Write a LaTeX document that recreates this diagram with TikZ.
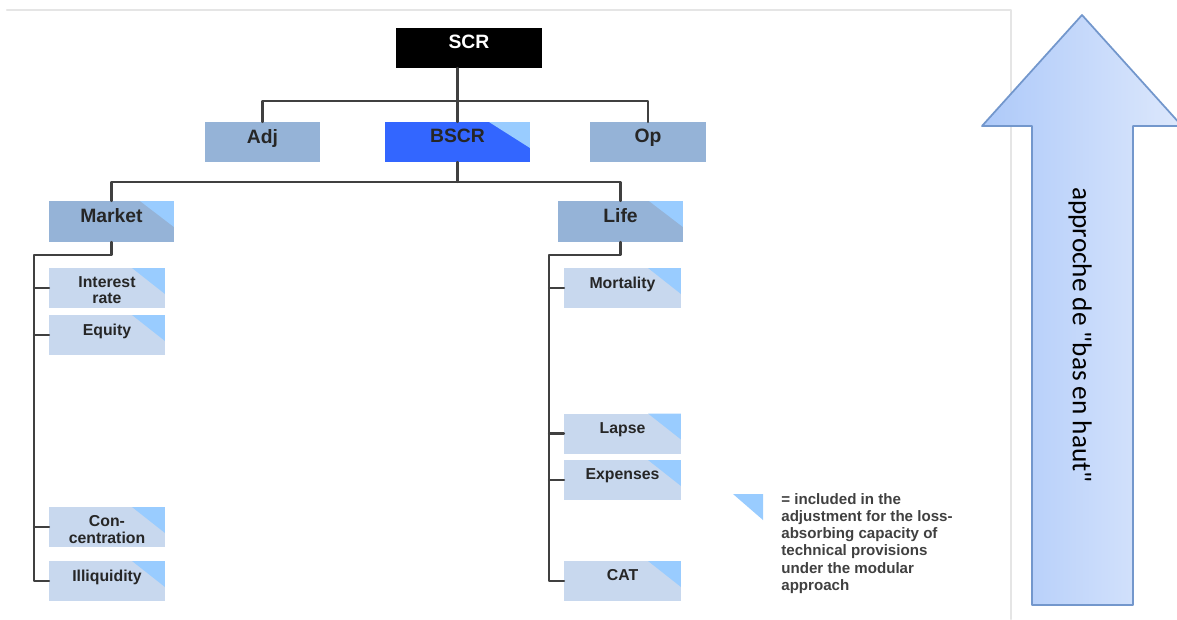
\documentclass[tikz,border=0pt]{standalone}
\usepackage{fontspec}
\setmainfont{Liberation Sans}
\newfontfamily\calibri{Carlito}
\definecolor{midblue}{HTML}{95B3D7}
\definecolor{paleblue}{HTML}{C8D8EE}
\definecolor{bscrblue}{HTML}{3366FF}
\definecolor{cornerblue}{HTML}{99CCFF}
\definecolor{arrowleft}{HTML}{ADC9F9}
\definecolor{arrowright}{HTML}{DDE8FC}
\definecolor{arrowedge}{HTML}{7397CC}
\begin{document}
\begin{tikzpicture}[x=0.02cm, y=-0.02cm, line join=round, line cap=round,
		box/.style={inner sep=0pt, outer sep=0pt, minimum height=0.8cm},
		topbox/.style={box, fill=midblue, minimum width=2.32cm},
		subbox/.style={box, fill=paleblue, minimum width=2.32cm},
		boxtext/.style={anchor=north, inner sep=0pt, text=black!85, font=\bfseries\fontsize{11}{12}\selectfont},
		subtext/.style={boxtext, align=center, font=\bfseries\fontsize{9}{9.2}\selectfont},
		conn/.style={draw=black!75, line width=1.2pt},
		corner/.style={fill=cornerblue}]
	\useasboundingbox (0,0) rectangle (1177,619);
	\draw[black!10, line width=1.2pt] (7,10) -- (1011,10) -- (1011,619);
	\node[box, fill=black, minimum width=2.92cm] (scr) at (469,48) {};
	\node[topbox, minimum width=2.3cm] (adj) at (262.5,142) {};
	\node[box, fill=bscrblue, minimum width=2.9cm] (bscr) at (457.5,142) {};
	\node[topbox] (op) at (648,142) {};
	\node[topbox, minimum width=2.5cm, minimum height=0.82cm] (market) at (111.5,221.5) {};
	\node[topbox, minimum width=2.5cm, minimum height=0.82cm] (life) at (620.5,221.5) {};
	\foreach \nm/\y in {int/288, eq/335, conc/527, illiq/581}
		\node[subbox] (\nm) at (107,\y) {};
	\foreach \nm/\y in {mort/288, lapse/433.5, exps/480, cat/581}
		\node[subbox, minimum width=2.34cm] (\nm) at (622.5,\y) {};
	\foreach \nm/\w in {bscr/0.82, market/0.68, life/0.68, int/0.66, eq/0.66, conc/0.66, illiq/0.66, mort/0.66, lapse/0.66, exps/0.66, cat/0.66}
		\fill[corner] ([xshift=-\w cm]\nm.north east) -- (\nm.north east) -- ([yshift=-0.52cm]\nm.north east) -- cycle;
	\node[boxtext, text=white] (scr-t) at ([yshift=-0.14cm]scr.north) {SCR};
	\foreach \nm/\txt in {adj/Adj, bscr/BSCR, op/Op, market/Market, life/Life}
		\node[boxtext] (\nm-t) at ([yshift=-0.14cm]\nm.north) {\txt};
	\foreach \nm/\txt in {int/{Interest\\rate}, eq/Equity, conc/{Con-\\centration}, illiq/Illiquidity, mort/Mortality, lapse/Lapse, exps/Expenses, cat/CAT}
		\node[subtext] (\nm-t) at ([yshift=-0.17cm]\nm.north) {\txt};
	\coordinate (top-bus) at (457.5,101);
	\coordinate (mid-bus) at (457.5,182);
	\coordinate (mkt-bus) at (34,255);
	\coordinate (life-bus) at (549,255);
	\draw[conn] (scr.south -| bscr.north) -- (bscr.north);
	\draw[conn] (adj.north) |- (top-bus) -| (op.north);
	\draw[conn] (bscr.south) -- (mid-bus);
	\draw[conn] (market.north) |- (mid-bus) -| (life.north);
	\draw[conn] (market.south) |- (mkt-bus) |- (illiq.west);
	\foreach \nm in {int, eq, conc}
		\draw[conn] (\nm.west) -- (\nm.west -| mkt-bus);
	\draw[conn] (life.south) |- (life-bus) |- (cat.west);
	\foreach \nm in {mort, lapse, exps}
		\draw[conn] (\nm.west) -- (\nm.west -| life-bus);
	\fill[corner] (733,494) -- (763,494) -- (763,520) -- cycle;
	\node[anchor=north west, inner sep=0pt, align=left, text=black!75, font=\bfseries\fontsize{8.6}{9.8}\selectfont] (legend) at (781,493) {= included in the\\adjustment for the loss-\\absorbing capacity of\\technical provisions\\under the modular\\approach};
	\draw[arrowedge, line width=1pt, left color=arrowleft, right color=arrowright] (1032,605) -- (1032,126) -- (982,126) -- (1082,15) -- (1182,126) -- (1133,126) -- (1133,605) -- cycle;
	\node[rotate=-90, font=\calibri\fontsize{15.5}{18}\selectfont] (arrow-t) at (1080,335) {approche de "bas en haut"};
\end{tikzpicture}
\end{document}
